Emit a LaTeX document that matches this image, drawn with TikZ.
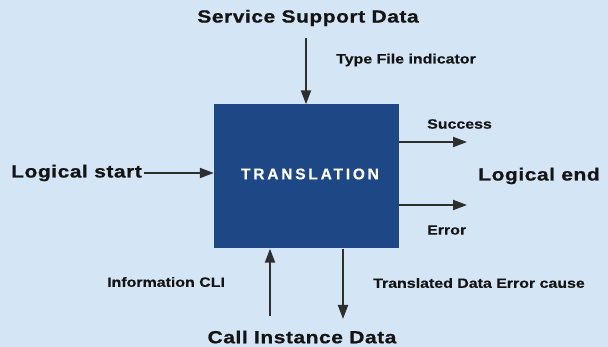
\documentclass[tikz,border=0pt]{standalone}
\usepackage{fontspec}
\usetikzlibrary{arrows.meta}
\newfontfamily\bigfont[FakeStretch=1.2,FakeBold=0.8,LetterSpace=3]{Liberation Sans Bold}
\newfontfamily\smallfont[FakeStretch=1.18,FakeBold=0.3]{Liberation Sans Bold}
\newfontfamily\boxfont[LetterSpace=18,FakeBold=0.5]{Liberation Sans Bold}
\definecolor{bgblue}{HTML}{D4E5F6}
\definecolor{boxblue}{HTML}{1E4785}
\definecolor{ink}{HTML}{141414}
\definecolor{arrowgray}{HTML}{2E2E2E}
\tikzset{
  biglabel/.style={font=\bigfont\fontsize{17.5}{19}\selectfont, text=ink, inner sep=0pt},
  smalllabel/.style={font=\smallfont\fontsize{13.5}{15}\selectfont, text=ink, inner sep=0pt},
  flow/.style={draw=arrowgray, line width=2pt, -{Triangle[length=14pt,width=10pt]}},
}
\begin{document}
\begin{tikzpicture}[x=1pt,y=-1pt]
  % canvas
  \fill[bgblue] (0,0) rectangle (608,347);
  \useasboundingbox (0,0) rectangle (608,347);

  % process box
  \node[fill=boxblue, minimum width=185pt, minimum height=144pt, inner sep=0pt]
    (tr) at (306.5,176.5) {};
  \node[font=\boxfont\fontsize{15.5}{17}\selectfont, text=white, inner sep=0pt]
    (trl) at (310,174) {TRANSLATION};

  % labels
  \node[biglabel] (ssd) at (308,18) {Service Support Data};
  \node[smalllabel, anchor=west] (tfi) at (336,60) {Type File indicator};
  \node[biglabel, anchor=west] (ls) at (11,173) {Logical start};
  \node[biglabel] (le) at (539,176) {Logical end};
  \node[smalllabel, anchor=west] (succ) at (427,124) {Success};
  \node[smalllabel, anchor=west] (err) at (427,230) {Error};
  \node[smalllabel, anchor=west] (icli) at (107,282) {Information CLI};
  \node[smalllabel, anchor=west] (tdec) at (373,283) {Translated Data Error cause};
  \node[biglabel] (cid) at (302,337) {Call Instance Data};

  % free ends of the connectors
  \coordinate (topin) at (306,38);
  \coordinate (succend) at (467,142);
  \coordinate (errend) at (467,205);
  \coordinate (botin) at (270,316);
  \coordinate (botout) at (343,319);

  % connectors
  \draw[flow] (topin) -- (topin |- tr.north);
  \draw[flow] ([xshift=2pt]ls.east) -- (ls.east -| tr.west);
  \draw[flow] (succend -| tr.east) -- (succend);
  \draw[flow] (errend -| tr.east) -- (errend);
  \draw[flow] (botin) -- (botin |- tr.south);
  \draw[flow] (botout |- tr.south) -- (botout);
\end{tikzpicture}
\end{document}
